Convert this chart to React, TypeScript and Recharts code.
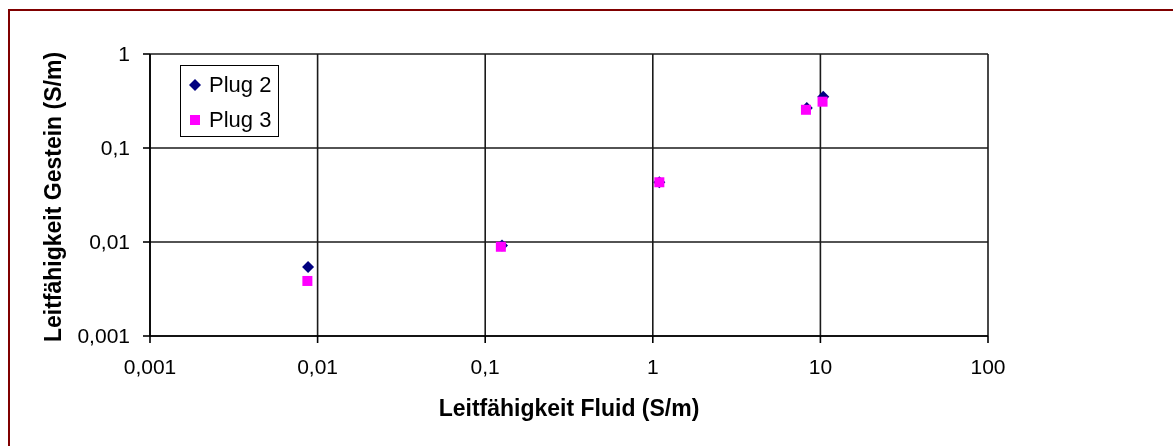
import { ScatterChart, Scatter, XAxis, YAxis, CartesianGrid, Legend } from 'recharts';

// Leitfähigkeit Fluid (x) gegen Leitfähigkeit Gestein (y), beide in S/m
const plug2Fluid = [0.00877, 0.126, 1.094, 8.3, 10.4];
const plug2Gestein = [0.00542, 0.0092, 0.0432, 0.267, 0.351];
const plug3Fluid = [0.00869, 0.124, 1.094, 8.2, 10.3];
const plug3Gestein = [0.00385, 0.0089, 0.0432, 0.255, 0.311];

const xTicks = [0.001, 0.01, 0.1, 1, 10, 100];
const yTicks = [0.001, 0.01, 0.1, 1];

const SERIES = [
  { name: 'Plug 2', color: '#000080', shape: 'diamond' },
  { name: 'Plug 3', color: '#ff00ff', shape: 'square' },
];

const FONT = '"Liberation Sans", Arial, sans-serif';

const plug2 = plug2Fluid.map((x, i) => ({ x, y: plug2Gestein[i] }));
const plug3 = plug3Fluid.map((x, i) => ({ x, y: plug3Gestein[i] }));

const fmt = (v: number) => String(v).replace('.', ',');

function Diamond({ cx, cy, fill }: any) {
  return <polygon points={`${cx},${cy - 6} ${cx + 6},${cy} ${cx},${cy + 6} ${cx - 6},${cy}`} fill={fill} />;
}

function Square({ cx, cy, fill }: any) {
  return <rect x={cx - 5} y={cy - 5} width={10} height={10} fill={fill} />;
}

function YTitle({ viewBox }: any) {
  const x = viewBox.x + 45;
  const y = viewBox.y + viewBox.height / 2 + 2;
  return (
    <text x={x} y={y} transform={`rotate(-90 ${x} ${y})`} textAnchor="middle" dominantBaseline="central"
      fontFamily={FONT} fontWeight="bold" fontSize={23} fill="#000">
      Leitfähigkeit Gestein (S/m)
    </text>
  );
}

function XTitle({ viewBox }: any) {
  return (
    <text x={viewBox.x + viewBox.width / 2} y={viewBox.y + 72} textAnchor="middle" dominantBaseline="central"
      fontFamily={FONT} fontWeight="bold" fontSize={23} fill="#000">
      Leitfähigkeit Fluid (S/m)
    </text>
  );
}

function LegendBox() {
  return (
    <div style={{ width: 97, height: 70, border: '1.5px solid #000', background: '#fff', fontFamily: FONT, fontSize: 22 }}>
      {SERIES.map((s, i) => (
        <div key={s.name} style={{ position: 'absolute', left: 0, top: i === 0 ? 8 : 43, display: 'flex', alignItems: 'center', height: 24 }}>
          <svg width={29} height={24}>
            {s.shape === 'diamond' ? <Diamond cx={15} cy={12} fill={s.color} /> : <Square cx={15} cy={12} fill={s.color} />}
          </svg>
          <span style={{ color: '#000', lineHeight: '24px' }}>{s.name}</span>
        </div>
      ))}
    </div>
  );
}

export default function App() {
  return (
    <div style={{ position: 'relative', width: 1165, height: 430 }}>
      <div style={{ position: 'fixed', left: 8, top: 9, width: 1300, height: 600, borderLeft: '2px solid #800000', borderTop: '2px solid #800000' }} />
      <ScatterChart width={1165} height={430} margin={{ top: 46, right: 185, bottom: 42, left: 0 }} style={{ position: 'relative' }}>
        <CartesianGrid stroke="#1a1a1a" strokeWidth={1.6} />
        <XAxis
          dataKey="x"
          type="number"
          scale="log"
          domain={[0.001, 100]}
          ticks={xTicks}
          allowDataOverflow
          tickFormatter={fmt}
          height={60}
          stroke="#000"
          strokeWidth={1.6}
          tickSize={7}
          tickMargin={16}
          tick={{ fill: '#000', fontSize: 21, fontFamily: FONT }}
          label={<XTitle />}
        />
        <YAxis
          dataKey="y"
          type="number"
          scale="log"
          domain={[0.001, 1]}
          ticks={yTicks}
          allowDataOverflow
          tickFormatter={fmt}
          width={142}
          stroke="#000"
          strokeWidth={1.6}
          tickSize={7}
          tickMargin={13}
          tick={{ fill: '#000', fontSize: 21, fontFamily: FONT }}
          label={<YTitle />}
        />
        <Legend
          layout="horizontal"
          verticalAlign="middle"
          align="center"
          content={<LegendBox />}
          wrapperStyle={{ position: 'absolute', left: 172, top: 57, width: 100, height: 73 }}
        />
        <Scatter name="Plug 2" data={plug2} fill="#000080" shape={<Diamond />} isAnimationActive={false} />
        <Scatter name="Plug 3" data={plug3} fill="#ff00ff" shape={<Square />} isAnimationActive={false} />
      </ScatterChart>
    </div>
  );
}
